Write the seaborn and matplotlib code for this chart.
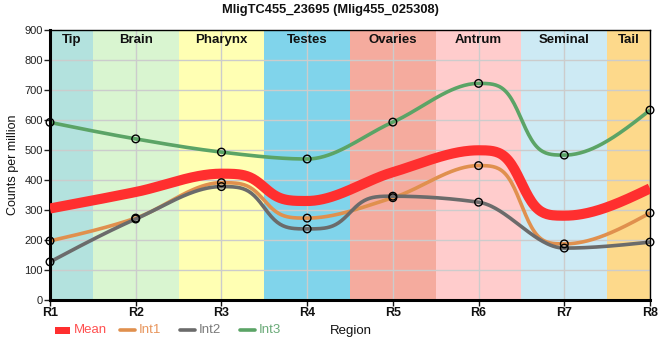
import numpy as np
import pandas as pd
import matplotlib
matplotlib.use("Agg")
import matplotlib.pyplot as plt
import seaborn as sns
from matplotlib.lines import Line2D
from matplotlib.patches import Rectangle

sns.set_theme(style="white")
plt.rcParams['font.family'] = ['Liberation Sans', 'DejaVu Sans']

title = "MligTC455_23695 (Mlig455_025308)"
regions = ["R1", "R2", "R3", "R4", "R5", "R6", "R7", "R8"]
bands = ["Tip", "Brain", "Pharynx", "Testes", "Ovaries", "Antrum", "Seminal", "Tail"]
band_colors = ["#b3e2de", "#d9f5d0", "#ffffb3", "#80d4eb", "#f5ab9e", "#ffcccc", "#cdeaf4", "#fdd98b"]
int1 = [197, 273, 391, 273, 341, 448, 187, 290]
int2 = [127, 270, 378, 237, 346, 326, 173, 193]
int3 = [592, 537, 493, 470, 593, 722, 483, 633]
mean = [305, 360, 421, 330, 426, 499, 281, 372]
series = {"Mean": mean, "Int1": int1, "Int2": int2, "Int3": int3}
colors = {"Mean": "#ff2f2f", "Int1": "#e0904e", "Int2": "#6b6b6b", "Int3": "#5ba466"}
widths = {"Mean": 7.3, "Int1": 2.6, "Int2": 2.6, "Int3": 2.6}
text_colors = {"Mean": "#ff5050", "Int1": "#e8955c", "Int2": "#7a7a7a", "Int3": "#6aaa78"}


def monotone(x, y, n=60, sharp=2.7):
    x = np.asarray(x, float); y = np.asarray(y, float)
    h = np.diff(x); s = np.diff(y) / h
    m = np.zeros_like(y)
    for i in range(1, len(y) - 1):
        p = (s[i-1] * h[i] + s[i] * h[i-1]) / (h[i-1] + h[i])
        m[i] = (np.sign(s[i-1]) + np.sign(s[i])) * min(abs(s[i-1]), abs(s[i]), 0.5 * abs(p))
    m[0] = (3 * s[0] - m[1]) / 2
    m[-1] = (3 * s[-1] - m[-2]) / 2
    xs, ys = [], []
    for i in range(len(y) - 1):
        t = np.linspace(0, 1, n, endpoint=(i == len(y) - 2))
        if m[i] == 0 and m[i+1] == 0:
            g = t**sharp / (t**sharp + (1 - t)**sharp)
            yy = y[i] + (y[i+1] - y[i]) * g
        else:
            h00 = 2*t**3 - 3*t**2 + 1; h10 = t**3 - 2*t**2 + t
            h01 = -2*t**3 + 3*t**2; h11 = t**3 - t**2
            yy = h00*y[i] + h10*h[i]*m[i] + h01*y[i+1] + h11*h[i]*m[i+1]
        xs.append(x[i] + t * h[i])
        ys.append(yy)
    return np.concatenate(xs), np.concatenate(ys)


pos = np.arange(len(regions))
fig = plt.figure(figsize=(6.6, 3.6), dpi=100)
ax = fig.add_axes([50/660, 60/360, 600/660, 270/360])

for i, (b, c) in enumerate(zip(bands, band_colors)):
    lo = max(i - 0.5, 0); hi = min(i + 0.5, len(regions) - 1)
    ax.axvspan(lo, hi, color=c, lw=0, zorder=0)
    ax.text((lo + hi) / 2, 868, b, ha="center", va="center", fontsize=9.5,
            fontweight="bold", color="#111111", zorder=5)

for k in pos:
    ax.axvline(k, color="#cccccc", lw=1, zorder=1)
for v in range(100, 900, 100):
    ax.axhline(v, color="#cccccc", lw=1, zorder=1)

rows = []
for name, vals in series.items():
    xs, ys = monotone(pos, vals)
    rows.append(pd.DataFrame({"x": xs, "y": ys, "series": name}))
dense = pd.concat(rows, ignore_index=True)
for name in series:
    sub = dense[dense.series == name]
    sns.lineplot(data=sub, x="x", y="y", ax=ax, color=colors[name], lw=widths[name],
                 sort=False, estimator=None, zorder=3 if name == "Mean" else 2,
                 legend=False, solid_capstyle="butt")

pts = pd.DataFrame({"x": np.tile(pos, 3), "y": int1 + int2 + int3})
sns.scatterplot(data=pts, x="x", y="y", ax=ax, s=30, facecolor="none",
                edgecolor="black", linewidth=1, zorder=4, legend=False, clip_on=False)

ax.set_xlim(0, len(regions) - 1)
ax.set_ylim(0, 900)
ax.set_xticks(pos)
ax.set_xticklabels(regions, fontweight="bold", fontsize=9)
ax.set_yticks(range(0, 901, 100))
ax.tick_params(axis="y", labelsize=8, length=4, width=1, pad=1, colors="#222222")
ax.tick_params(axis="x", length=4, width=1, pad=1, colors="#111111")
ax.tick_params(axis="both", which="both", direction="out", bottom=True, left=True)
ax.set_xlabel("")
ax.set_ylabel("Counts per million", fontsize=9, color="#111111", labelpad=4)
for sp in ["left", "bottom"]:
    ax.spines[sp].set_linewidth(2.2)
    ax.spines[sp].set_color("black")
for sp in ["top", "right"]:
    ax.spines[sp].set_linewidth(1)
    ax.spines[sp].set_color("black")

fig.text(0.5, 1 - 10/360, title, ha="center", va="center", fontsize=9.3,
         fontweight="bold", color="#111111")
fig.text(351/660, 1 - 331/360, "Region", ha="center", va="center", fontsize=9.5, color="#111111")

# legend row
W, H = 660.0, 360.0
ly = 1 - 330/H
fig.add_artist(Rectangle((55/W, 1 - 334/H), 15/W, 7/H, transform=fig.transFigure,
                         facecolor=colors["Mean"], edgecolor="none"))
fig.text(74/W, ly, "Mean", ha="left", va="center", fontsize=9.5, color=text_colors["Mean"])
for name, x0 in zip(["Int1", "Int2", "Int3"], [120, 180, 240]):
    fig.add_artist(Line2D([x0/W, (x0 + 15)/W], [ly, ly], transform=fig.transFigure,
                          color=colors[name], lw=2.6))
    fig.text((x0 + 19)/W, ly, name, ha="left", va="center", fontsize=9.5, color=text_colors[name])

fig.savefig("out.png", dpi=100)
